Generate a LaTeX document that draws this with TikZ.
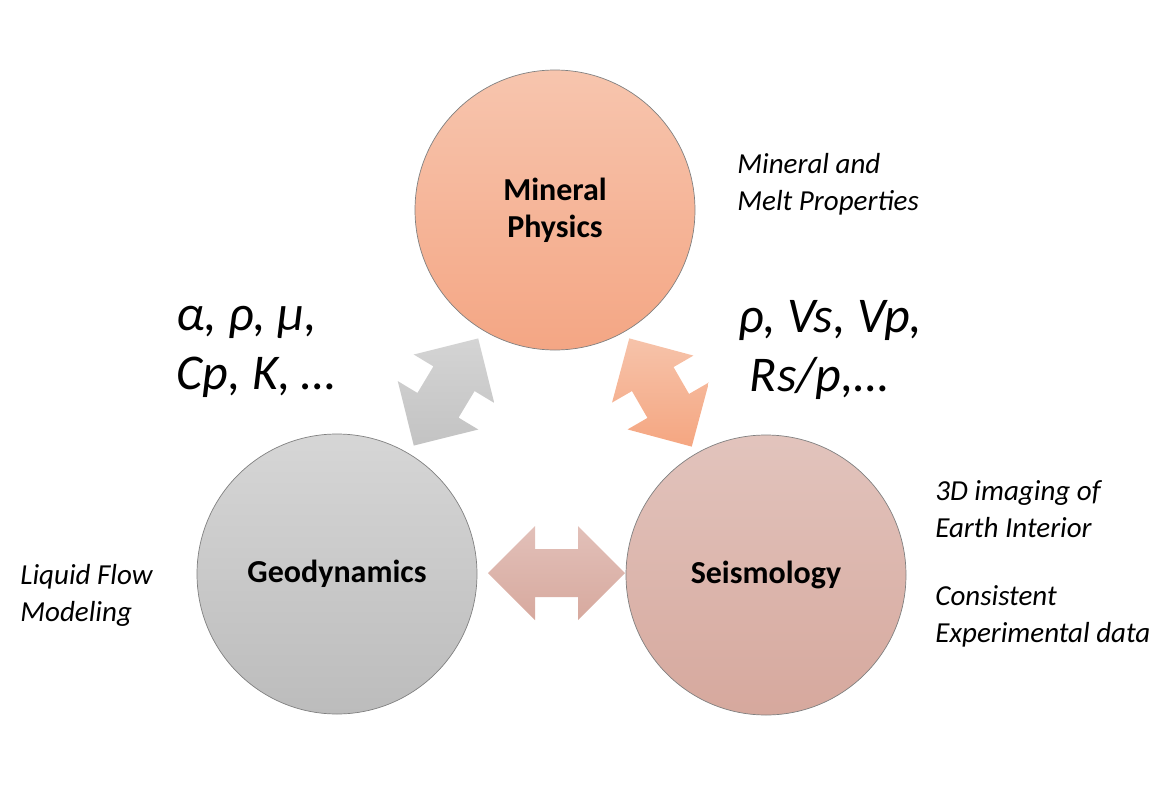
\documentclass[tikz,border=0pt]{standalone}
\usepackage{fontspec}
\setmainfont{Carlito}
\usetikzlibrary{calc}
\definecolor{mpTop}{HTML}{F7C5AE}
\definecolor{mpBot}{HTML}{F4A684}
\definecolor{geoTop}{HTML}{D6D6D6}
\definecolor{geoBot}{HTML}{BCBCBC}
\definecolor{seTop}{HTML}{E2C4BD}
\definecolor{seBot}{HTML}{D6A89D}
\definecolor{agTop}{HTML}{D4D4D4}
\definecolor{agBot}{HTML}{C3C3C3}
\definecolor{asTop}{HTML}{F6C3AA}
\definecolor{asBot}{HTML}{F5A681}
\definecolor{abTop}{HTML}{E2C0B9}
\definecolor{abBot}{HTML}{D7A99E}
% double block arrow, half length #1, in local units
\newcommand{\dblarrowpath}[1]{(-#1,0) -- ({-#1+47},47) -- ({-#1+47},24) -- ({#1-47},24) -- ({#1-47},47) -- (#1,0) -- ({#1-47},-47) -- ({#1-47},-24) -- ({-#1+47},-24) -- ({-#1+47},-47) -- cycle}
\begin{document}
\begin{tikzpicture}[x=0.5pt,y=-0.5pt,
  bubble/.style={circle, minimum size=140pt, inner sep=0pt, draw=black!50, line width=0.35pt,
    font=\fontsize{16}{18.5}\selectfont\bfseries, align=center},
  note/.style={anchor=west, inner sep=0pt, align=left, font=\fontsize{14.5}{18.5}\selectfont\itshape},
  sym/.style={anchor=west, inner sep=0pt, align=left, font=\fontsize{25}{29.5}\selectfont\itshape}]
\path[use as bounding box] (0,0) rectangle (1174,793);

\node[bubble, top color=mpTop, bottom color=mpBot] (mp) at (555,210) {Mineral\\Physics};
\node[bubble, top color=geoTop, bottom color=geoBot] (geo) at (337,574) {Geodynamics};
\node[bubble, top color=seTop, bottom color=seBot] (se) at (766,575) {Seismology};

\coordinate (a1) at ($(mp)!0.5!(geo)$);
\coordinate (a2) at ($(mp)!0.5!(se)$);
\coordinate (a3) at ($(geo)!0.5!(se)+(5,-1.5)$);

\shade[top color=agTop, bottom color=agBot, shift={(a1)}, rotate=59] \dblarrowpath{62.5};
\shade[top color=asTop, bottom color=asBot, shift={(a2)}, rotate=120] \dblarrowpath{62.5};
\shade[top color=abTop, bottom color=abBot, shift={(a3)}] \dblarrowpath{68.5};

\node[note] (mpnote) at (737,184) {Mineral and\\Melt Properties};
\node[note] (senote1) at (935,509) {3D imaging of\\Earth Interior};
\node[note] (senote2) at (935,616.5) {Consistent\\Experimental data};
\node[note] (geonote) at (20,595) {Liquid Flow\\Modeling};

\node[sym] (symL) at (176,352) {α, ρ, μ,\\Cp, K, …};
\node[sym] (symR) at (738,350) {ρ, Vs, Vp,\\\hspace*{0.23em}Rs/p,…};
\end{tikzpicture}
\end{document}
